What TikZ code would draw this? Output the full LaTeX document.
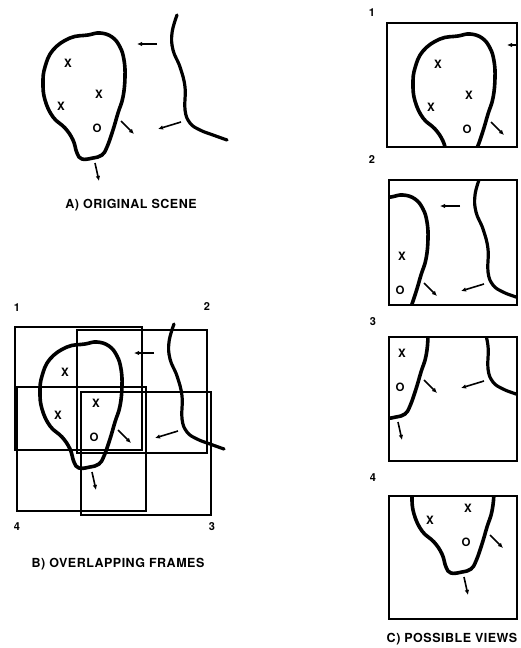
\documentclass[tikz,border=0pt]{standalone}
\usepackage{fontspec}
\newfontfamily\capfont[LetterSpace=4]{TeX Gyre Heros}
\newfontfamily\markfont{TeX Gyre Heros}
\usetikzlibrary{arrows.meta}

\tikzset{
    outline/.style={line width=3.6pt, line cap=round, line join=round},
    ridge/.style={line width=3.2pt, line cap=round},
    motion/.style={line width=1.6pt, -{Latex[length=5pt,width=4.5pt]}},
    framebox/.style={line width=1.3pt},
    viewbox/.style={line width=1.8pt},
    objmark/.style={font=\markfont\bfseries\fontsize{11.5}{13}\selectfont, inner sep=0pt},
    numlbl/.style={font=\markfont\bfseries\fontsize{11}{13}\selectfont, inner sep=0pt},
    caption/.style={font=\capfont\bfseries\fontsize{12.5}{14}\selectfont, inner sep=0pt}
}

% the scene's lines, in the coordinates of panel A
\newcommand{\origscene}{%
    \draw[outline] plot[smooth cycle, tension=0.7] coordinates {
        (88,35) (100,33) (112,37) (120,47) (124,60) (125,77) (123,97)
        (118,113) (113,130) (107,147) (102,155) (93,158) (82,159) (77,153)
        (73,140) (65,128) (53,117) (45,100) (43,83) (45,67) (53,50) (70,38)};
    \draw[ridge] plot[smooth, tension=0.7] coordinates {
        (177,15) (172,33) (173,50) (180,67) (185,87) (185,110)
        (190,123) (200,130) (213,135) (227,140)};
    \draw[motion] (157,44) -- (137,44);
    \draw[motion] (121,121) -- (134,134);
    \draw[motion] (181,122) -- (158,129);
    \draw[motion] (95,163) -- (99,181);
}

\begin{document}
\begin{tikzpicture}[x=1pt, y=-1pt]
\useasboundingbox (0,0) rectangle (520,648);

% A) original scene
\origscene
\node[objmark] (a-x1) at (68,63) {X};
\node[objmark] (a-x2) at (99,94) {X};
\node[objmark] (a-x3) at (61,106) {X};
\node[objmark] (a-o) at (97,128) {O};
\node[caption] (capA) at (131,205) {A) ORIGINAL SCENE};

% B) overlapping frames
\begin{scope}[shift={(-3,309)}]
    \origscene
    \node[objmark] (b-x1) at (68,63) {X};
    \node[objmark] (b-x2) at (99,94) {X};
    \node[objmark] (b-x3) at (61,106) {X};
    \node[objmark] (b-o) at (97,128) {O};
\end{scope}
\draw[framebox] (15,327) rectangle (142,450);
\draw[framebox] (77,330) rectangle (207,453);
\draw[framebox] (17,387) rectangle (146,511);
\draw[framebox] (81,392) rectangle (211,515);
\node[numlbl] (fr1) at (17,308) {1};
\node[numlbl] (fr2) at (207,307) {2};
\node[numlbl] (fr3) at (212,527) {3};
\node[numlbl] (fr4) at (17,527) {4};
\node[caption] (capB) at (118,564) {B) OVERLAPPING FRAMES};

% C) possible views
\begin{scope}
    \clip (387,23) rectangle (517,147);
    \begin{scope}[shift={(370,1)}]
        \origscene
        \node[objmark] (v1-x1) at (68,63) {X};
        \node[objmark] (v1-x2) at (99,94) {X};
        \node[objmark] (v1-x3) at (61,106) {X};
        \node[objmark] (v1-o) at (97,128) {O};
    \end{scope}
\end{scope}
\draw[viewbox] (387,23) rectangle (517,147);
\node[numlbl] (vw1) at (372,13) {1};

\begin{scope}
    \clip (389,180) rectangle (517,305);
    \begin{scope}[shift={(303,162)}]
        \origscene
        \node[objmark] (v2-x2) at (99,94) {X};
        \node[objmark] (v2-o) at (97,128) {O};
    \end{scope}
\end{scope}
\draw[viewbox] (389,180) rectangle (517,305);
\node[numlbl] (vw2) at (372,160) {2};

\begin{scope}
    \clip (389,337) rectangle (517,461);
    \begin{scope}[shift={(303,259)}]
        \origscene
        \node[objmark] (v3-x2) at (99,94) {X};
        \node[objmark] (v3-o) at (97,128) {O};
    \end{scope}
\end{scope}
\draw[viewbox] (389,337) rectangle (517,461);
\node[numlbl] (vw3) at (373,322) {3};

\begin{scope}
    \clip (389,496) rectangle (517,619);
    \begin{scope}[shift={(369,414)}]
        \origscene
        \node[objmark] (v4-x2) at (99,94) {X};
        \node[objmark] (v4-x3) at (61,106) {X};
        \node[objmark] (v4-o) at (97,128) {O};
    \end{scope}
\end{scope}
\draw[viewbox] (389,496) rectangle (517,619);
\node[numlbl] (vw4) at (373,478) {4};
\node[caption] (capC) at (452,639) {C) POSSIBLE VIEWS};
\end{tikzpicture}
\end{document}
